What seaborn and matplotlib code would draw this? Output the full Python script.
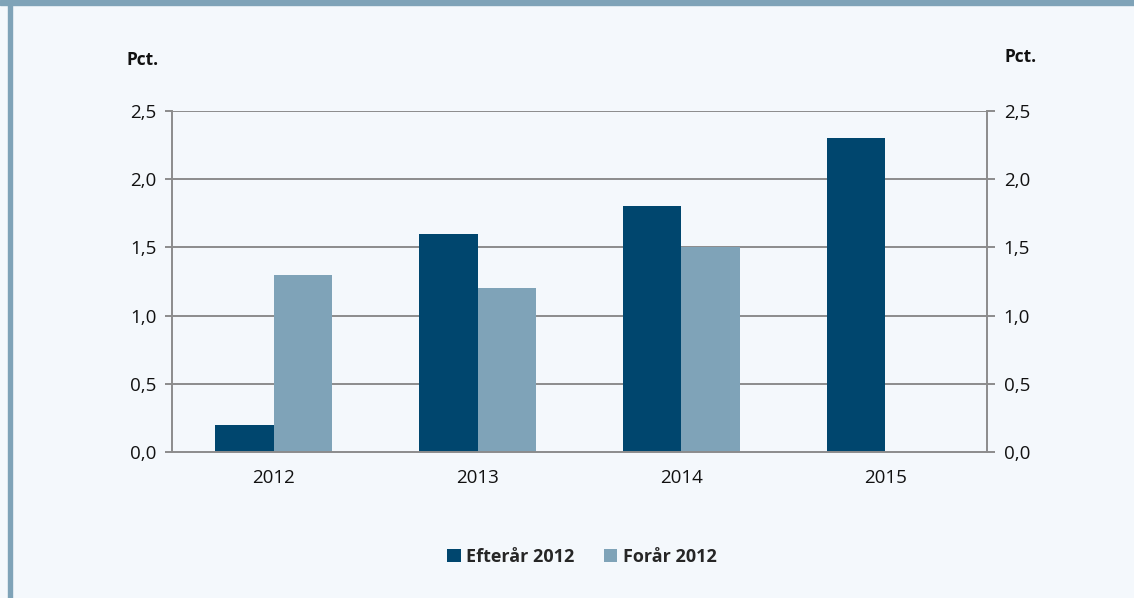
import matplotlib.pyplot as plt
import numpy as np
import pandas as pd
import seaborn as sns
from matplotlib.patches import Rectangle

years = ["2012", "2013", "2014", "2015"]
efteraar = [0.2, 1.6, 1.8, 2.3]
foraar = [1.3, 1.2, 1.5, np.nan]
series_names = ["Efterår 2012", "Forår 2012"]
y_ticks = [0.0, 0.5, 1.0, 1.5, 2.0, 2.5]

df = pd.DataFrame({
    "year": years * 2,
    "value": efteraar + foraar,
    "series": [series_names[0]] * 4 + [series_names[1]] * 4,
})

sns.set_theme(style="white")
plt.rcParams["font.family"] = ["Open Sans", "DejaVu Sans"]

bg = "#f4f8fc"
frame = "#7fa3b8"
grid = "#8c8c8c"

fig = plt.figure(figsize=(11.34, 5.98), dpi=100, facecolor=bg)
ax = fig.add_axes([172 / 1134, 1 - 452 / 598, (987 - 172) / 1134, (452 - 111) / 598])
ax.set_facecolor(bg)

sns.barplot(data=df, x="year", y="value", hue="series",
            palette=["#00466e", "#7fa3b8"], width=0.575, saturation=1,
            linewidth=0, ax=ax, legend=True)

ax.set_ylim(0, 2.5)
ax.set_xlim(-0.5, 3.5)
ax.set_yticks(y_ticks)
ax.set_yticklabels([f"{v:.1f}".replace(".", ",") for v in y_ticks])
ax.set_xlabel("")
ax.set_ylabel("")

# gridlines
for v in y_ticks[1:]:
    ax.axhline(v, color=grid, lw=1.4, zorder=0)

for s in ["left", "right", "bottom"]:
    ax.spines[s].set_visible(True)
    ax.spines[s].set_color(grid)
    ax.spines[s].set_linewidth(1.4)
ax.spines["top"].set_visible(False)

ax.tick_params(axis="y", which="major", direction="out", length=5, width=1.4,
               color=grid, labelsize=13.5, pad=6, labelcolor="#111111")
ax.tick_params(axis="x", which="major", length=0, labelsize=13.5, pad=12,
               labelcolor="#111111")
ax.set_xticks([-0.5, 0.5, 1.5, 2.5, 3.5], minor=True)
ax.tick_params(axis="x", which="minor", direction="out", length=5, width=1.4,
               color=grid)

# right axis duplicate
ax2 = ax.twinx()
ax2.set_ylim(0, 2.5)
ax2.set_yticks(y_ticks)
ax2.set_yticklabels([f"{v:.1f}".replace(".", ",") for v in y_ticks])
ax2.tick_params(axis="y", direction="out", length=6, width=1.4, color=grid,
                labelsize=13.5, pad=6, labelcolor="#111111")
for s in ax2.spines.values():
    s.set_visible(False)
ax2.grid(False)

fig.text(143 / 1134, 1 - 60 / 598, "Pct.", fontsize=12.5, fontweight="bold",
         ha="center", va="center", color="#111111")
fig.text(1021 / 1134, 1 - 57 / 598, "Pct.", fontsize=12.5, fontweight="bold",
         ha="center", va="center", color="#111111")

# legend
handles, labels = ax.get_legend_handles_labels()
ax.legend_.remove()
fig.legend(handles, labels, loc="center", bbox_to_anchor=(582 / 1134, 1 - 557 / 598),
           ncol=2, frameon=False, handlelength=0.75, handleheight=0.75,
           handletextpad=0.3, columnspacing=1.6,
           prop={"size": 13, "weight": "bold"})

# frame strips
fig.patches.append(Rectangle((8 / 1134, 0), 4 / 1134, 1, transform=fig.transFigure,
                             color=frame, zorder=0))
fig.patches.append(Rectangle((0, 1 - 5 / 598), 1, 5 / 598,
                             transform=fig.transFigure, color=frame, zorder=0))

fig.savefig("out.png", dpi=100, facecolor=bg)
